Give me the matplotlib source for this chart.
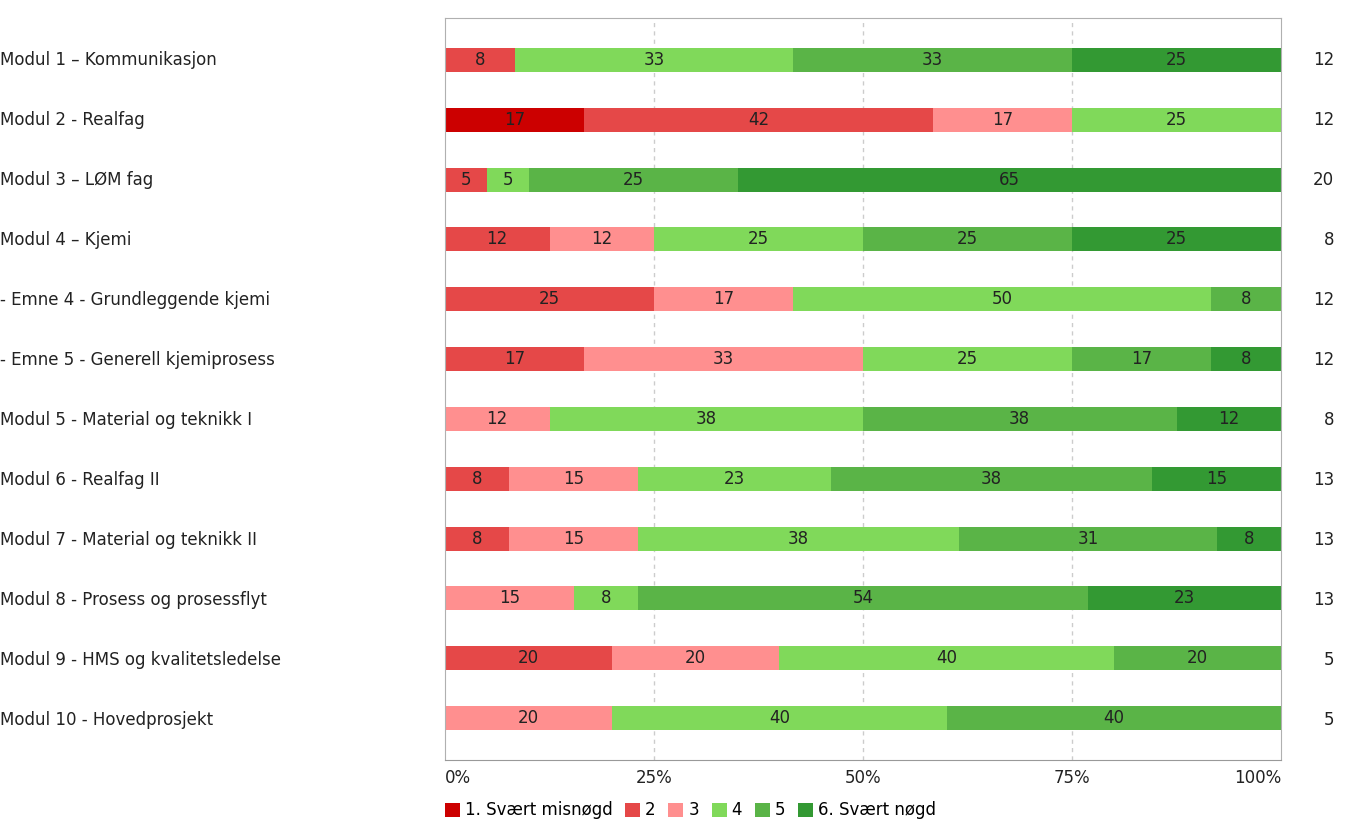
import numpy as np
import matplotlib
matplotlib.use("Agg")
import matplotlib.pyplot as plt
from matplotlib.patches import Patch

# modules (top to bottom) and answer counts per level 1..6
modules = ["Modul 1 – Kommunikasjon", "Modul 2 - Realfag", "Modul 3 – LØM fag",
           "Modul 4 – Kjemi", "- Emne 4 - Grundleggende kjemi",
           "- Emne 5 - Generell kjemiprosess", "Modul 5 - Material og teknikk I",
           "Modul 6 - Realfag II", "Modul 7 - Material og teknikk II",
           "Modul 8 - Prosess og prosessflyt", "Modul 9 - HMS og kvalitetsledelse",
           "Modul 10 - Hovedprosjekt"]
lvl1 = [0, 2, 0, 0, 0, 0, 0, 0, 0, 0, 0, 0]
lvl2 = [1, 5, 1, 1, 3, 2, 0, 1, 1, 0, 1, 0]
lvl3 = [0, 2, 0, 1, 2, 4, 1, 2, 2, 2, 1, 1]
lvl4 = [4, 3, 1, 2, 6, 3, 3, 3, 5, 1, 2, 2]
lvl5 = [4, 0, 5, 2, 1, 2, 3, 5, 4, 7, 1, 2]
lvl6 = [3, 0, 13, 2, 0, 1, 1, 2, 1, 3, 0, 0]
level_names = ["1. Svært misnøgd", "2", "3", "4", "5", "6. Svært nøgd"]
colors = ["#cc0000", "#e54848", "#ff8f8f", "#80d95a", "#5ab447", "#339933"]

counts = np.array([lvl1, lvl2, lvl3, lvl4, lvl5, lvl6], dtype=float)
n = counts.sum(axis=0)
pct = counts / n * 100

fig = plt.figure(figsize=(13.48, 8.25), dpi=100)
ax = fig.add_axes([445 / 1348, 1 - 760 / 825, 836 / 1348, 742 / 825])
fs = 12
y = np.arange(len(modules))

left = np.zeros(len(modules))
for k in range(6):
    ax.barh(y, pct[k], left=left, height=0.4, color=colors[k], zorder=2)
    for i in range(len(modules)):
        if pct[k, i] > 0:
            ax.text(left[i] + pct[k, i] / 2, y[i], str(int(round(pct[k, i]))),
                    ha="center", va="center", fontsize=fs, color="#222222", zorder=3)
    left += pct[k]

ax.set_xlim(0, 100)
ax.set_ylim(11.7, -0.7)
ax.set_yticks([])
ax.set_xticks([25, 50, 75])
ax.set_xticklabels([])
ax.tick_params(length=0)
ax.grid(axis="x", color="#cccccc", linestyle=(0, (3, 3)), linewidth=1, zorder=1)
for s in ["top", "left", "right"]:
    ax.spines[s].set_color("#b0b0b0")
ax.spines["bottom"].set_color("#999999")

# x tick labels
for v in [0, 25, 50, 75, 100]:
    ha = "left" if v == 0 else ("right" if v == 100 else "center")
    ax.text(v, 12.0, f"{v}%", ha=ha, va="center", fontsize=fs, color="#222222")

# row labels and n
for i, name in enumerate(modules):
    fig.text(0.0, 1 - (60 + 60 * i) / 825, name, ha="left", va="center",
             fontsize=fs, color="#222222")
    fig.text(1334 / 1348, 1 - (60 + 60 * i) / 825, str(int(n[i])), ha="right",
             va="center", fontsize=fs, color="#222222")

handles = [Patch(facecolor=c, label=l) for c, l in zip(colors, level_names)]
ax.legend(handles=handles, loc="center left", bbox_to_anchor=(0.0, -0.068),
          ncol=6, frameon=False, fontsize=fs, handlelength=0.9, handleheight=0.9,
          handletextpad=0.3, columnspacing=0.75, borderaxespad=0, borderpad=0)

fig.savefig("out.png", dpi=100)
